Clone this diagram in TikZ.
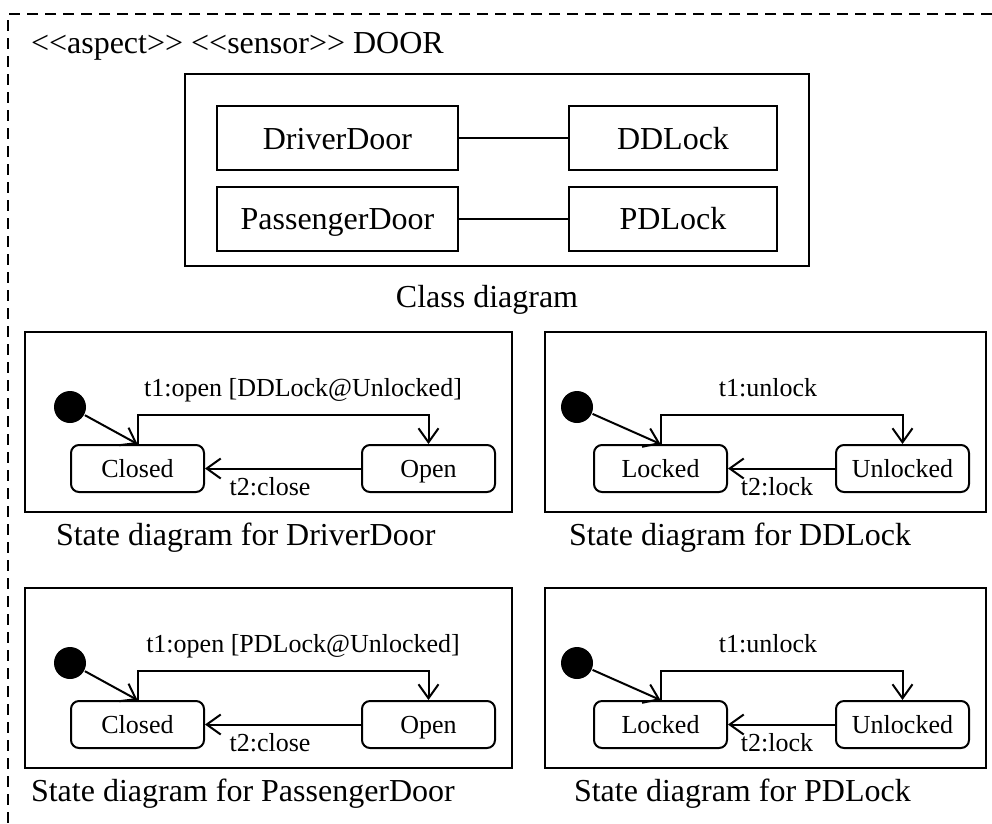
\documentclass[tikz,border=0pt]{standalone}
\usepackage{fontspec}
\setmainfont{Liberation Serif}[Ligatures=TeXOff]
\usetikzlibrary{arrows.meta}
\begin{document}
\begin{tikzpicture}[x=1pt,y=-1pt,line width=2pt,
	every node/.style={font=\fontsize{32}{38}\selectfont,inner sep=0pt},
	cls/.style={draw,minimum width=241pt,minimum height=64pt,text height=22pt,text depth=0pt},
	panel/.style={draw},
	stnode/.style={draw,rounded corners=8pt,minimum width=133pt,minimum height=47pt,font=\fontsize{26}{30}\selectfont,text height=18pt,text depth=0pt},
	initdot/.style={circle,fill,minimum size=32pt},
	lbl/.style={font=\fontsize{26}{30}\selectfont,anchor=base},
	arr/.style={-{Straight Barb[length=14pt,width=20pt]}}]
		\useasboundingbox(0,0)rectangle(992,823);
		\draw[dash pattern=on 11pt off 7pt](992,14)-|(8,823);
		\node[anchor=base west](title)at(30,53){<<aspect>> <<sensor>> DOOR};
		% class diagram
		\node[panel,minimum width=624pt,minimum height=192pt](clspanel)at(497,170){};
		\node[cls](dd)at(337.5,138){DriverDoor};
		\node[cls,minimum width=208pt](ddl)at(673,138){DDLock};
		\node[cls](pd)at(337.5,218.5){PassengerDoor};
		\node[cls,minimum width=208pt](pdl)at(673,218.5){PDLock};
		\draw(dd)--(ddl);
		\draw(pd)--(pdl);
		\node[anchor=base](clscap)at(487,307){Class diagram};
		% door state diagrams
		\foreach\n/\dy/\lk/\dr/\cx in{1/0/DDLock/DriverDoor/55,2/256/PDLock/PassengerDoor/30}{
			\node[panel,minimum width=487pt,minimum height=180pt](dpanel\n)at(268.5,422+\dy){};
			\node[initdot](dini\n)at(70,407+\dy){};
			\node[stnode](closed\n)at(137.5,468.5+\dy){Closed};
			\node[stnode](open\n)at(428.5,468.5+\dy){Open};
			\draw[arr](dini\n)--(closed\n.north);
			\draw[arr](closed\n.north)--++(0,-29)-|(open\n.north);
			\draw[arr](open\n)--(closed\n);
			\node[lbl](dt1\n)at(303,396+\dy){t1:open [\lk@Unlocked]};
			\node[lbl](dt2\n)at(270,495+\dy){t2:close};
			\node[anchor=base west](dcap\n)at(\cx,545+\dy){State diagram for \dr};
		}
		% lock state diagrams
		\foreach\n/\dy/\lk/\cx in{1/0/DDLock/568,2/256/PDLock/573}{
			\node[panel,minimum width=441pt,minimum height=180pt](lpanel\n)at(765.5,422+\dy){};
			\node[initdot](lini\n)at(577,407+\dy){};
			\node[stnode](locked\n)at(660.5,468.5+\dy){Locked};
			\node[stnode](unlocked\n)at(902.5,468.5+\dy){Unlocked};
			\draw[arr](lini\n)--(locked\n.north);
			\draw[arr](locked\n.north)--++(0,-29)-|(unlocked\n.north);
			\draw[arr](unlocked\n)--(locked\n);
			\node[lbl](lt1\n)at(768,396+\dy){t1:unlock};
			\node[lbl](lt2\n)at(777,495+\dy){t2:lock};
			\node[anchor=base west](lcap\n)at(\cx,545+\dy){State diagram for \lk};
		}
\end{tikzpicture}
\end{document}
